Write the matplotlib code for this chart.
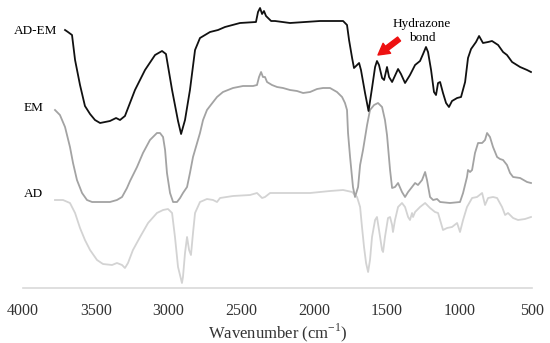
import numpy as np
import matplotlib
matplotlib.use('Agg')
import matplotlib.pyplot as plt

# FTIR spectra, wavenumber (cm-1) and relative transmittance (arbitrary units, stacked)
wn_adem = [3711, 3691, 3663, 3642, 3608, 3574, 3539, 3505, 3470, 3402,
           3360, 3333, 3299, 3230, 3161, 3092, 3044, 3017, 2975, 2934,
           2913, 2886, 2852, 2817, 2783, 2714, 2659, 2611, 2508, 2398,
           2384, 2370, 2356, 2343, 2329, 2315, 2294, 2267, 2164, 2061,
           1958, 1820, 1799, 1772, 1758, 1737, 1724, 1703, 1689, 1676,
           1648, 1624, 1600, 1579, 1566, 1552, 1531, 1517, 1497, 1483,
           1462, 1421, 1401, 1373, 1339, 1304, 1270, 1249, 1229, 1215,
           1194, 1174, 1160, 1146, 1132, 1112, 1091, 1071, 1050, 1015,
           988, 960, 940, 919, 885, 864, 837, 802, 775, 733,
           699, 672, 637, 582, 534, 507]
t_adem = [258, 256, 253, 228, 203, 182, 174, 168, 165, 167,
          170, 168, 172, 198, 218, 233, 237, 234, 198, 167,
          154, 168, 198, 238, 250, 256, 258, 261, 265, 266,
          276, 280, 274, 277, 272, 270, 267, 267, 265, 266,
          267, 267, 267, 263, 248, 230, 220, 223, 225, 218,
          195, 177, 200, 221, 227, 223, 210, 208, 221, 211,
          206, 219, 214, 205, 213, 223, 227, 234, 241, 236,
          218, 196, 193, 205, 206, 195, 185, 181, 187, 190,
          191, 206, 230, 239, 246, 252, 245, 246, 247, 243,
          236, 233, 226, 221, 218, 216]

wn_em = [3780, 3746, 3711, 3677, 3656, 3629, 3594, 3560, 3525, 3470,
         3402, 3354, 3319, 3285, 3264, 3216, 3175, 3127, 3079, 3058,
         3037, 3023, 3010, 2989, 2968, 2941, 2920, 2900, 2872, 2852,
         2831, 2803, 2783, 2762, 2735, 2714, 2666, 2625, 2556, 2487,
         2418, 2391, 2377, 2363, 2350, 2336, 2322, 2288, 2253, 2212,
         2164, 2116, 2074, 2026, 1978, 1937, 1889, 1841, 1806, 1786,
         1772, 1765, 1751, 1731, 1717, 1696, 1682, 1662, 1634, 1614,
         1586, 1559, 1531, 1511, 1497, 1476, 1462, 1442, 1421, 1394,
         1373, 1352, 1325, 1304, 1284, 1256, 1235, 1222, 1201, 1180,
         1153, 1132, 1064, 995, 974, 947, 940, 926, 912, 892,
         871, 843, 823, 809, 789, 768, 740, 720, 699, 672,
         651, 630, 582, 534, 507]
t_em = [178, 173, 161, 141, 125, 108, 95, 88, 86, 86,
        86, 88, 91, 100, 107, 121, 135, 148, 155, 155,
        151, 138, 115, 95, 86, 86, 90, 95, 101, 115,
        131, 145, 155, 168, 178, 182, 191, 196, 200, 202,
        202, 203, 211, 216, 211, 211, 206, 203, 201, 200,
        198, 197, 195, 196, 199, 200, 200, 196, 191, 185,
        178, 155, 131, 101, 91, 101, 123, 138, 163, 178,
        183, 185, 181, 168, 153, 118, 100, 101, 105, 96,
        91, 96, 101, 105, 103, 108, 116, 108, 91, 88,
        89, 86, 85, 86, 95, 111, 118, 116, 118, 135,
        145, 145, 148, 155, 151, 141, 131, 129, 128, 123,
        115, 111, 110, 106, 105]

wn_ad = [3780, 3725, 3677, 3642, 3608, 3574, 3539, 3491, 3450, 3388,
         3354, 3319, 3299, 3278, 3244, 3195, 3140, 3079, 3037, 3003,
         2975, 2955, 2934, 2907, 2900, 2886, 2872, 2858, 2845, 2831,
         2817, 2783, 2735, 2693, 2666, 2645, 2556, 2439, 2391, 2356,
         2336, 2301, 2164, 2026, 1889, 1799, 1737, 1703, 1682, 1669,
         1655, 1641, 1627, 1614, 1600, 1579, 1566, 1552, 1531, 1524,
         1511, 1490, 1476, 1462, 1456, 1442, 1421, 1394, 1373, 1352,
         1339, 1325, 1318, 1304, 1270, 1235, 1201, 1167, 1146, 1132,
         1112, 1084, 1050, 1015, 995, 974, 947, 912, 878, 843,
         823, 802, 768, 740, 706, 685, 665, 630, 596, 548,
         507]
t_ad = [88, 88, 85, 75, 60, 48, 38, 28, 24, 23,
        25, 23, 20, 25, 38, 51, 65, 75, 78, 79,
        75, 51, 21, 5, 11, 35, 51, 38, 33, 55,
        75, 86, 89, 88, 86, 90, 92, 93, 95, 90,
        91, 95, 95, 95, 97, 98, 96, 91, 81, 61,
        41, 25, 16, 28, 51, 68, 71, 58, 38, 36,
        51, 70, 71, 63, 56, 68, 81, 85, 81, 71,
        68, 75, 71, 76, 81, 85, 80, 76, 75, 68,
        58, 60, 61, 65, 56, 68, 81, 90, 91, 95,
        83, 90, 91, 90, 81, 73, 75, 70, 68, 69,
        71]

ticks = [4000, 3500, 3000, 2500, 2000, 1500, 1000, 500]

plt.rcParams['font.family'] = 'Liberation Serif'
plt.rcParams['mathtext.fontset'] = 'custom'
plt.rcParams['mathtext.rm'] = 'Liberation Serif'

fig = plt.figure(figsize=(5.5, 3.43), dpi=100)
ax = fig.add_axes([23 / 550, 1 - 288 / 343, (532 - 23) / 550, 288 / 343])

ax.plot(wn_ad, t_ad, color='#d3d3d3', lw=1.3)
ax.plot(wn_em, t_em, color='#a3a3a3', lw=1.3)
ax.plot(wn_adem, t_adem, color='#111111', lw=1.3)

ax.set_xlim(4000, 500)
ax.set_ylim(0, 288)
ax.set_xticks(ticks)
ax.set_yticks([])
ax.tick_params(axis='x', length=0, pad=10.5, labelsize=11.5, colors='#333333')
for s in ['top', 'right', 'left']:
    ax.spines[s].set_visible(False)
ax.spines['bottom'].set_color('#d9d9d9')
ax.spines['bottom'].set_linewidth(1.2)
ax.patch.set_alpha(0)

ax.set_xlabel('Wavenumber (cm$^{\\mathregular{-1}}$)', fontsize=12, labelpad=2, color='#333333')

ax.text(3766, 257, 'AD-EM', ha='right', va='center', fontsize=9.5)
ax.text(3862, 180, 'EM', ha='right', va='center', fontsize=9.5)
ax.text(3862, 94, 'AD', ha='right', va='center', fontsize=9.5)

ax.text(1256, 257, 'Hydrazone\nbond', ha='center', va='center', fontsize=9.5, linespacing=1.15)
ax.annotate('', xy=(1559, 233), xytext=(1414, 249),
            arrowprops=dict(arrowstyle='simple,head_width=0.9,head_length=0.8,tail_width=0.35',
                            color='#ee1111', mutation_scale=10, shrinkA=0, shrinkB=0))

fig.savefig('out.png', dpi=100)
